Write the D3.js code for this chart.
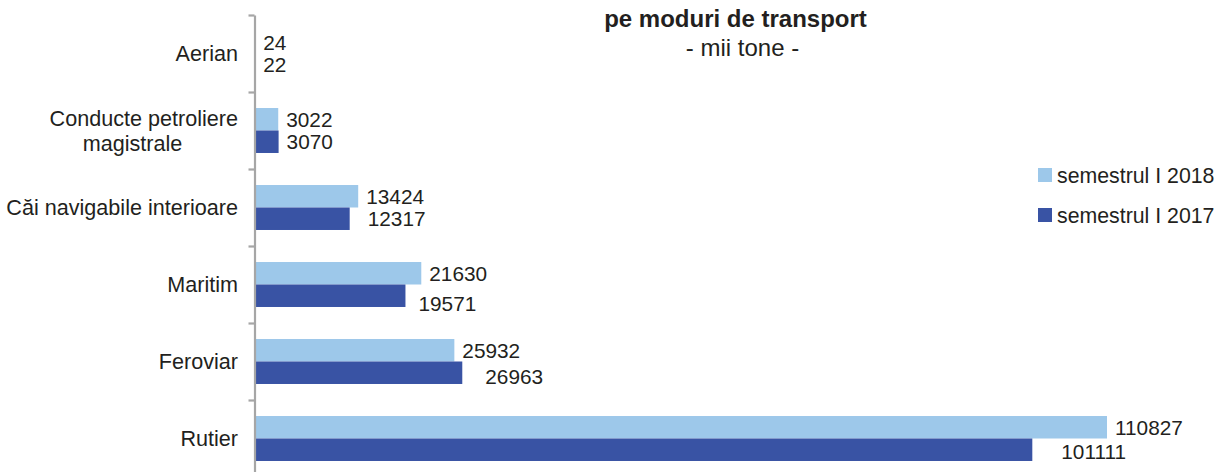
<!DOCTYPE html>
<html>
<head>
<meta charset="utf-8">
<script src="https://cdn.jsdelivr.net/npm/d3@7"></script>
<style>
  html, body { margin: 0; padding: 0; background: #fff; }
  svg { display: block; font-family: "Liberation Sans", Arial, sans-serif; }
</style>
</head>
<body>
<svg id="chart" width="1217" height="472"></svg>
<script>
// ---- data ----
const categories = ["Aerian", "Conducte petroliere magistrale", "Căi navigabile interioare", "Maritim", "Feroviar", "Rutier"];
const categoryLines = [["Aerian"], ["Conducte petroliere", "magistrale"], ["Căi navigabile interioare"], ["Maritim"], ["Feroviar"], ["Rutier"]];
const seriesNames = ["semestrul I 2018", "semestrul I 2017"];
const values2018 = [24, 3022, 13424, 21630, 25932, 110827];
const values2017 = [22, 3070, 12317, 19571, 26963, 101111];
const titleText = "pe moduri de transport";
const subtitleText = "- mii tone -";

// ---- layout / style constants ----
const colors = ["#9DC8EA", "#3953A4"];
const labelDx2017 = [8, 8, 18, 13, 23, 29];
const labelDy2017 = [0, 0, 0, 8, 4, 2];
const textColor = "#231F20";

const svg = d3.select("#chart");
const axisX = 255;

const x = d3.scaleLinear().domain([0, 120000]).range([axisX, axisX + 120000 * (852 / 110827)]);
const y = d3.scaleBand().domain(categories).range([15, 477]).paddingInner(0.416).paddingOuter(0.208);
const ySub = d3.scaleBand().domain(seriesNames).range([0, y.bandwidth()]);

const rows = categories.map((c, i) => ({ cat: c, i, vals: [values2018[i], values2017[i]] }));

// bars
const g = svg.append("g");
rows.forEach(r => {
  seriesNames.forEach((s, si) => {
    const v = r.vals[si];
    const yy = y(r.cat) + ySub(s);
    g.append("rect")
      .attr("x", x(0))
      .attr("y", yy)
      .attr("width", x(v) - x(0))
      .attr("height", ySub.bandwidth())
      .attr("fill", colors[si]);
    const dx = si === 0 ? 8 : labelDx2017[r.i];
    const dy = si === 0 ? 0 : labelDy2017[r.i];
    g.append("text")
      .attr("x", x(v) + dx)
      .attr("y", yy + ySub.bandwidth() / 2 + dy)
      .attr("dy", "0.36em")
      .attr("font-size", "20.8px")
      .attr("fill", textColor)
      .text(v);
  });
});

// axis with ticks at category boundaries
const step = y.step();
const axisScale = d3.scaleLinear().domain([0, categories.length]).range([y.range()[0], y.range()[0] + categories.length * step]);
const axis = d3.axisLeft(axisScale).tickValues(d3.range(categories.length + 1)).tickSize(6).tickSizeOuter(0).tickFormat("");
const ag = svg.append("g").attr("transform", `translate(${axisX - 0.5},0)`).call(axis);
ag.select(".domain").attr("stroke", "#A6A6A6").attr("stroke-width", 2.2);
ag.selectAll(".tick line").attr("stroke", "#A6A6A6").attr("stroke-width", 2.2);

// category labels
rows.forEach(r => {
  const lines = categoryLines[r.i];
  const cy = y(r.cat) + y.bandwidth() / 2;
  if (lines.length === 1) {
    svg.append("text")
      .attr("x", 238).attr("y", cy).attr("dy", "0.35em")
      .attr("text-anchor", "end").attr("font-size", "21.6px").attr("fill", textColor)
      .text(lines[0]);
  } else {
    svg.append("text")
      .attr("x", 238).attr("y", cy - 12.5).attr("dy", "0.35em")
      .attr("text-anchor", "end").attr("font-size", "21.6px").attr("fill", textColor)
      .text(lines[0]);
    svg.append("text")
      .attr("x", 132.5).attr("y", cy + 12.5).attr("dy", "0.35em")
      .attr("text-anchor", "middle").attr("font-size", "21.6px").attr("fill", textColor)
      .text(lines[1]);
  }
});

// title
svg.append("text").attr("x", 735.5).attr("y", 26.5).attr("text-anchor", "middle")
  .attr("font-size", "24px").attr("font-weight", "bold").attr("fill", textColor).text(titleText);
svg.append("text").attr("x", 742.5).attr("y", 56).attr("text-anchor", "middle")
  .attr("font-size", "24px").attr("fill", textColor).text(subtitleText);

// legend
const legendY = [168, 208];
seriesNames.forEach((s, si) => {
  svg.append("rect").attr("x", 1038).attr("y", legendY[si]).attr("width", 14).attr("height", 14).attr("fill", colors[si]);
  svg.append("text").attr("x", 1057).attr("y", legendY[si] + 7).attr("dy", "0.36em")
    .attr("font-size", "21.3px").attr("fill", textColor).text(s);
});
</script>
</body>
</html>
